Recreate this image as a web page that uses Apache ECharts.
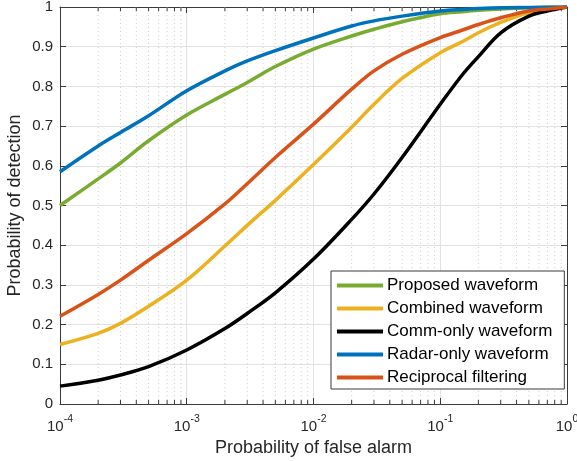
<!DOCTYPE html>
<html>
<head>
<meta charset="utf-8">
<script src="https://cdn.jsdelivr.net/npm/echarts@6/dist/echarts.min.js"></script>
<style>
  html, body { margin: 0; padding: 0; background: #fff; }
  #main { width: 577px; height: 461px; }
</style>
</head>
<body>
<div id="main"></div>
<script>
// false alarm probabilities (x) shared by all curves
const pfa = [1e-4, 2e-4, 3e-4, 5e-4, 1e-3, 2e-3, 3e-3, 5e-3, 1e-2, 2e-2, 3e-2, 5e-2, 0.1, 0.15, 0.2, 0.3, 0.5, 0.7, 1]
const proposed = [0.50, 0.567, 0.607, 0.663, 0.728, 0.78, 0.81, 0.85, 0.894, 0.927, 0.944, 0.963, 0.983, 0.988, 0.992, 0.995, 0.998, 0.999, 1]
const combined = [0.15, 0.178, 0.203, 0.246, 0.312, 0.398, 0.45, 0.513, 0.603, 0.697, 0.755, 0.82, 0.885, 0.913, 0.935, 0.961, 0.986, 0.994, 1]
const commOnly = [0.045, 0.06, 0.073, 0.094, 0.136, 0.19, 0.228, 0.28, 0.365, 0.465, 0.529, 0.621, 0.755, 0.83, 0.875, 0.935, 0.977, 0.99, 1]
const radarOnly = [0.585, 0.65, 0.684, 0.726, 0.789, 0.839, 0.864, 0.89, 0.922, 0.952, 0.965, 0.977, 0.99, 0.994, 0.996, 0.998, 0.999, 1, 1]
const reciprocal = [0.221, 0.276, 0.312, 0.362, 0.429, 0.504, 0.555, 0.621, 0.705, 0.793, 0.839, 0.881, 0.923, 0.942, 0.956, 0.973, 0.99, 0.995, 1]
const seriesNames = ['Proposed waveform', 'Combined waveform', 'Comm-only waveform', 'Radar-only waveform', 'Reciprocal filtering']
const seriesColors = ['#77AC30', '#EDB120', '#000000', '#0072BD', '#D95319']
const yTicks = [0, 0.1, 0.2, 0.3, 0.4, 0.5, 0.6, 0.7, 0.8, 0.9, 1]

// minor log grid positions 2..9 x 10^k
const minorX = []
for (let k = -4; k < 0; k++) {
  for (let m = 2; m <= 9; m++) minorX.push([m * Math.pow(10, k)])
}

const font = 'Liberation Sans, Arial, Helvetica, sans-serif'
const axisColor = '#3a3a3a'
const textColor = '#262626'
const zip = (ys) => pfa.map((x, i) => [x, ys[i]])
const allData = [proposed, combined, commOnly, radarOnly, reciprocal]

const myChart = echarts.init(document.getElementById('main'))

const lineSeries = seriesNames.map((name, i) => ({
  name: name,
  type: 'line',
  data: zip(allData[i]),
  smooth: 0.35,
  showSymbol: false,
  symbol: 'none',
  z: 3,
  lineStyle: { width: 3.5, color: seriesColors[i] },
  itemStyle: { color: seriesColors[i] }
}))

myChart.setOption({
  animation: false,
  backgroundColor: '#fff',
  grid: { left: 60, right: 10, top: 7, bottom: 57, outerBoundsMode: 'none' },
  legend: {
    orient: 'vertical',
    left: 331,
    top: 271,
    padding: [6, 12, 3, 6],
    itemGap: 6,
    itemWidth: 46,
    itemHeight: 4,
    icon: 'rect',
    backgroundColor: '#fff',
    borderColor: axisColor,
    borderWidth: 1,
    data: seriesNames,
    textStyle: { fontFamily: font, fontSize: 17, color: '#000', padding: [0, 0, 0, -1] }
  },
  xAxis: [{
    type: 'log',
    logBase: 10,
    min: 1e-4,
    max: 1,
    name: 'Probability of false alarm',
    nameLocation: 'middle',
    nameGap: 34,
    nameTextStyle: { fontFamily: font, fontSize: 18, color: textColor },
    axisLine: { show: true, onZero: false, lineStyle: { color: axisColor, width: 1 } },
    axisTick: { show: true, inside: true, length: 6, lineStyle: { color: axisColor } },
    axisLabel: {
      color: textColor,
      margin: 10,
      formatter: (v) => '{b|10}{s|' + Math.round(Math.log10(v)) + '}',
      rich: {
        b: { fontFamily: font, fontSize: 15, color: textColor, verticalAlign: 'bottom' },
        s: { fontFamily: font, fontSize: 10.5, color: textColor, verticalAlign: 'top', padding: [0, 0, 9, 0] }
      }
    },
    splitLine: { show: true, lineStyle: { color: '#e2e2e2', width: 1 } }
  }, {
    type: 'log',
    logBase: 10,
    min: 1e-4,
    max: 1,
    position: 'top',
    axisLine: { show: true, onZero: false, lineStyle: { color: axisColor, width: 1 } },
    axisTick: { show: true, inside: true, length: 6, lineStyle: { color: axisColor } },
    axisLabel: { show: false },
    splitLine: { show: false }
  }],
  yAxis: [{
    type: 'value',
    min: 0,
    max: 1,
    interval: 0.1,
    name: 'Probability of detection',
    nameLocation: 'middle',
    nameGap: 36,
    nameMoveOverlap: false,
    nameTextStyle: { fontFamily: font, fontSize: 18, color: textColor },
    axisLine: { show: true, onZero: false, lineStyle: { color: axisColor, width: 1 } },
    axisTick: { show: true, inside: true, length: 6, lineStyle: { color: axisColor } },
    axisLabel: {
      fontFamily: font, fontSize: 15, color: textColor, margin: 7,
      formatter: (v) => {
        const t = yTicks.find(t => Math.abs(t - v) < 1e-9)
        return t === undefined ? '' : String(t)
      }
    },
    splitLine: { show: true, lineStyle: { color: '#e2e2e2', width: 1 } }
  }, {
    type: 'value',
    min: 0,
    max: 1,
    interval: 0.1,
    position: 'right',
    axisLine: { show: true, onZero: false, lineStyle: { color: axisColor, width: 1 } },
    axisTick: { show: true, inside: true, length: 6, lineStyle: { color: axisColor } },
    axisLabel: { show: false },
    splitLine: { show: false }
  }],
  series: [{
    name: 'minorGrid',
    type: 'custom',
    silent: true,
    z: 1,
    data: minorX,
    renderItem: (params, api) => {
      const x = api.value(0)
      const bottom = api.coord([x, 0])
      const top = api.coord([x, 1])
      return {
        type: 'group',
        children: [{
          type: 'line',
          shape: { x1: bottom[0], y1: bottom[1], x2: top[0], y2: top[1] },
          style: { stroke: '#cfcfcf', lineWidth: 1, lineDash: [1, 3] }
        }, {
          type: 'line',
          shape: { x1: bottom[0], y1: bottom[1], x2: bottom[0], y2: bottom[1] - 4 },
          style: { stroke: axisColor, lineWidth: 1 }
        }, {
          type: 'line',
          shape: { x1: top[0], y1: top[1], x2: top[0], y2: top[1] + 4 },
          style: { stroke: axisColor, lineWidth: 1 }
        }]
      }
    }
  }].concat(lineSeries)
})
</script>
</body>
</html>
